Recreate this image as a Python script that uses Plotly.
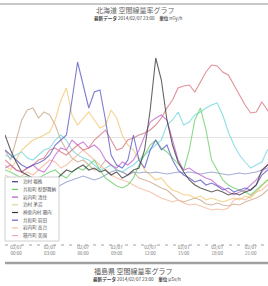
import plotly.graph_objects as go
import pandas as pd

# ---------------- data ----------------
times = pd.date_range("2014-02-06 23:00", periods=49, freq="30min")
tick_times = pd.date_range("2014-02-07 00:00", periods=8, freq="3h")
tick_labels = ["02/07<br>00:00", "02/07<br>03:00", "02/07<br>06:00", "02/07<br>09:00",
               "02/07<br>12:00", "02/07<br>15:00", "02/07<br>18:00", "02/07<br>21:00"]

station_names = ["泊村 堀株", "共和町 梨野舞納", "岩内町 清住", "泊村 茅沼",
                 "神恵内村 珊内", "共和町 前田", "岩内町 高台", "積丹町 美国",
                 "寿都町 歌棄", "蘭越町 港町"]

s_blue = [32, 31, 30, 29, 28.4, 29, 29.4, 30, 31, 33, 34, 35, 42, 49.6, 45, 40.4, 43.6, 44,
          38, 31, 29, 28.4, 30, 35, 30, 28.4, 32, 34, 32, 33, 30, 28, 27, 26.4, 25.6, 26, 25,
          25.4, 24.8, 24, 24.4, 23.6, 24, 24.4, 24, 25, 27, 28, 28.4]
s_green = [28, 27.6, 27, 26.4, 26.8, 26, 26.4, 27, 27.6, 28, 27, 26.4, 27.6, 28.4, 28, 29, 30,
           28, 26.4, 25.6, 24.8, 24.4, 25, 26.4, 29, 31, 33, 34, 32.4, 31.6, 30.4, 29, 28, 32,
           38, 40.4, 36, 30, 28, 26, 25, 24.4, 24, 23.6, 23, 24, 25, 26, 26.4]
s_magenta = [28.4, 29, 28, 27.6, 28.4, 29, 28, 27.6, 29, 31, 32.4, 32, 34, 33, 33.6, 32.4, 33,
             32, 30, 29, 28.4, 29.6, 29, 30, 32, 35, 37.6, 38.4, 39, 38, 34, 30, 28, 28.4, 27.6,
             27, 26.4, 26, 25, 24.4, 23.6, 23, 23.6, 24, 25, 26, 27.6, 29, 30]
s_orange = [29, 28, 30, 32, 33, 34, 34.4, 35, 35.6, 38, 42, 44.4, 39, 37, 38.4, 39.6, 38, 36.4,
            37, 40, 38.4, 35, 33, 32, 30, 28, 27, 26, 26.4, 25, 24, 23.6, 23, 23, 22.4, 22.8,
            22, 22.4, 22, 21.6, 22, 22.4, 22, 22.8, 22.4, 23.6, 25, 26, 26.4]
s_black = [35, 32, 29.6, 27.6, 27, 26.4, 26, 25.6, 26.4, 26, 27, 28, 27.6, 28.4, 29, 28, 28.4,
           27.6, 28, 27, 27.6, 26.4, 27, 28, 28.4, 32, 40, 50.4, 46, 38, 33, 29.6, 27.6, 26,
           25, 24.4, 24, 23.6, 24, 23.6, 23, 23.4, 23, 23.6, 24, 25, 28, 29, 30]
s_steel = [26.4, 25.6, 25, 24.4, 24.8, 25.2, 25, 24.4, 24, 24.4, 25, 25.6, 26, 26.4, 26.8, 26.4,
           26, 26.4, 27, 27.6, 28, 27.6, 27, 27.6, 27.4, 27.6, 27.4, 27.6, 27.4, 27.2, 27.4,
           27.6, 27.4, 27.6, 27.4, 27.2, 27.4, 27.6, 27.4, 27.2, 27, 27.2, 27.4, 27.2, 27.4,
           27.6, 28, 28.4, 29]
s_peach = [27, 26.4, 26, 26.8, 27.6, 27, 28, 29, 30, 29.6, 28.4, 29, 30, 31, 32, 31, 30, 29, 28,
           27, 26.4, 26, 25.6, 25, 24.4, 24, 23.6, 23, 22.4, 22, 21.6, 22, 21.4, 21, 21.2, 20.8,
           20.4, 20, 20.2, 20, 20.4, 22, 22.4, 22, 22.8, 23.6, 24, 25, 25.6]
s_red = [30, 29, 28, 27.6, 28.4, 29, 30, 30.4, 32, 32.4, 31.6, 31, 32, 33, 32, 32.4, 34, 35, 36,
         34, 32, 32.4, 34, 34.4, 35, 35.4, 36, 37, 38.4, 40.4, 42, 44.4, 44.8, 45, 43.6, 45.6,
         47.6, 49, 48.8, 47.6, 47, 45, 43, 41, 39.4, 39.6, 41.6, 40, 38]
s_cyan = [31, 30.4, 31, 31.6, 30.4, 30, 31, 32, 32.4, 34, 35, 34, 32, 31, 30.4, 30, 29, 28,
          28.4, 29, 28, 27.6, 28.4, 29, 30, 31, 32, 33, 34, 37, 38, 39.6, 37, 37.6, 39, 39.6,
          40.4, 41, 41.4, 39, 35.6, 33, 31, 29.6, 28.4, 29, 29.6, 32, 33]
s_tan = [32, 30, 34, 38, 40, 40.4, 38.4, 39.6, 39, 37, 34, 32, 30.4, 29.6, 30, 29, 28, 28.4,
         30, 29, 28, 27.6, 27, 27.6, 26.4, 26, 25.6, 25, 24.4, 24, 23, 22, 21.6, 22, 22.4, 22,
         21.2, 21, 21.4, 21, 20.8, 21.2, 21, 21.6, 22, 22.4, 23, 24, 24.4]

series = [s_blue, s_green, s_magenta, s_orange, s_black, s_steel, s_peach, s_red, s_cyan, s_tan]
colors = ["#5a5ac4", "#6ccf6c", "#c464cf", "#f2c870", "#3a3a3a", "#8e9ac8", "#f5b89a",
          "#d8747f", "#70d8e0", "#caa88c"]
legend_colors = ["#3a3a88", "#66cc66", "#b058c8", "#d8d890", "#333333", "#7060c0",
                 "#f4c0a0", "#f0a8b8"]

# ---------------- layout helpers ----------------
W, H = 268, 286
L, R, T, B = 5, 0, 30, 43
PW, PH = W - L - R, H - T - B


def px(x):
    return (x - L) / PW


def py(y):
    return (H - B - y) / PH


fig = go.Figure()
draw_order = [9, 8, 6, 3, 5, 1, 2, 7, 0, 4]
for k in draw_order:
    fig.add_trace(go.Scatter(x=times, y=series[k], mode="lines", name=station_names[k],
                             line=dict(color=colors[k], width=1.1), opacity=0.78,
                             showlegend=False, hoverinfo="skip"))

FONT = "Noto Sans CJK JP, sans-serif"
shapes = []
annotations = []

# top rule
shapes.append(dict(type="line", xref="paper", yref="paper", x0=px(0), x1=px(W),
                   y0=py(4), y1=py(4), line=dict(color="#c8c8c8", width=2)))
# dashed axis line
shapes.append(dict(type="line", xref="paper", yref="paper", x0=px(5), x1=px(W),
                   y0=py(245), y1=py(245), line=dict(color="#a0a0a0", width=1, dash="3px,5px")))
# bottom separator
shapes.append(dict(type="line", xref="paper", yref="paper", x0=px(5), x1=px(W),
                   y0=py(263), y1=py(263), line=dict(color="#a0a0a0", width=2.5)))

# custom legend
shapes.append(dict(type="rect", xref="paper", yref="paper", x0=px(5), x1=px(59),
                   y0=py(241), y1=py(177), fillcolor="white", line=dict(color="#d0d0d0", width=1),
                   layer="above"))
for i in range(8):
    yy = 181.7 + 7.7 * i
    shapes.append(dict(type="line", xref="paper", yref="paper", x0=px(12), x1=px(18),
                       y0=py(yy), y1=py(yy), line=dict(color=legend_colors[i], width=1.2),
                       layer="above"))
    annotations.append(dict(xref="paper", yref="paper", x=px(21), y=py(yy), xanchor="left",
                            yanchor="middle", text=station_names[i], showarrow=False,
                            font=dict(size=4.6, color="#555555", family=FONT)))

annotations += [
    dict(xref="paper", yref="paper", x=px(135), y=py(10), text="北海道 空間線量率グラフ",
         showarrow=False, xanchor="center", yanchor="middle",
         font=dict(size=7, color="#666666", family=FONT)),
    dict(xref="paper", yref="paper", x=px(138), y=py(18.8),
         text="<b>最新データ</b> 2014/02/07 23:00　<b>単位</b> nGy/h",
         showarrow=False, xanchor="center", yanchor="middle",
         font=dict(size=4.6, color="#444444", family=FONT)),
    dict(xref="paper", yref="paper", x=px(133), y=py(270.5), text="福島県 空間線量率グラフ",
         showarrow=False, xanchor="center", yanchor="middle",
         font=dict(size=7, color="#555555", family=FONT)),
    dict(xref="paper", yref="paper", x=px(137), y=py(279.5),
         text="<b>最新データ</b> 2014/02/07 23:00　<b>単位</b> μSv/h",
         showarrow=False, xanchor="center", yanchor="middle",
         font=dict(size=4.6, color="#444444", family=FONT)),
]

fig.update_layout(
    width=W, height=H,
    margin=dict(l=L, r=R, t=T, b=B, pad=0),
    paper_bgcolor="white", plot_bgcolor="white",
    showlegend=False,
    shapes=shapes, annotations=annotations,
    font=dict(family=FONT),
    xaxis=dict(range=["2014-02-06 23:00", "2014-02-07 22:33"], tickvals=tick_times,
               ticktext=tick_labels, tickfont=dict(size=4.6, color="#777777", family=FONT),
               showgrid=False, zeroline=False, showline=False, ticks=""),
    yaxis=dict(range=[13.4, 56], tickvals=[34.5], showticklabels=False, showgrid=True,
               gridcolor="#e4e4e4", gridwidth=1, zeroline=False, showline=False, ticks=""),
)

fig.write_html("out.html", config={"displayModeBar": False},
               post_script="document.body.style.margin='0';")
